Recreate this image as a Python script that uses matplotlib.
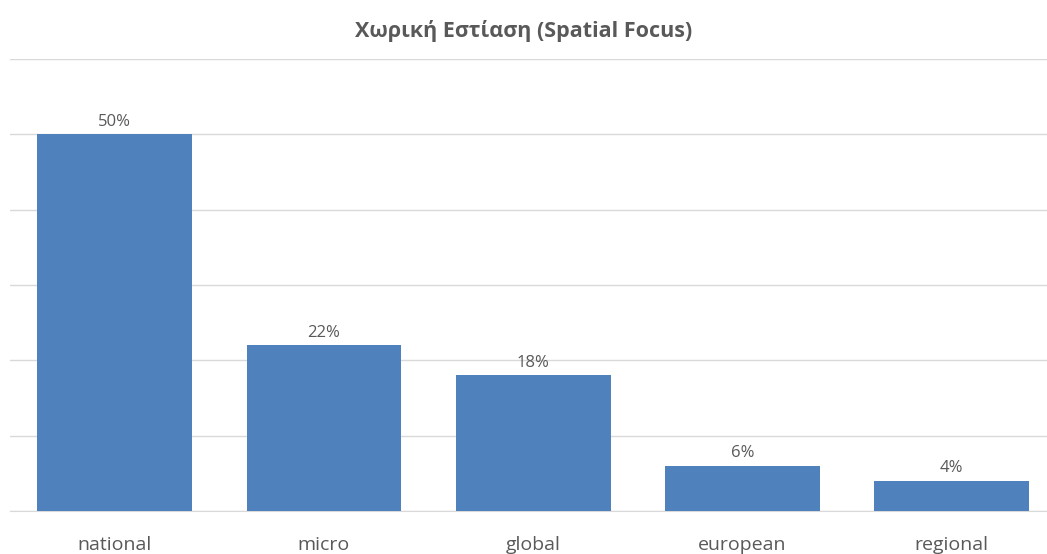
import matplotlib.pyplot as plt

categories = ['national', 'micro', 'global', 'european', 'regional']
values = [50, 22, 18, 6, 4]
labels = ['50%', '22%', '18%', '6%', '4%']

plt.rcParams['font.family'] = ['Open Sans', 'DejaVu Sans']

fig = plt.figure(figsize=(10.47, 5.54), dpi=100)
ax = fig.add_axes([10 / 1047, 43 / 554, 1046.5 / 1047, 452 / 554])

bars = ax.bar(range(len(categories)), values, width=0.74, color='#4F81BD', zorder=3)
for b, lab in zip(bars, labels):
    ax.text(b.get_x() + b.get_width() / 2, b.get_height() + 0.6, lab,
            ha='center', va='bottom', fontsize=12, color='#595959')

ax.set_xlim(-0.5, 4.5)
ax.set_ylim(0, 60)
ax.set_yticks(range(0, 61, 10))
ax.yaxis.grid(True, color='#D9D9D9', linewidth=1)
ax.tick_params(axis='y', left=False, labelleft=False)
ax.tick_params(axis='x', length=0, pad=18, labelsize=14, labelcolor='#595959')
ax.set_xticks(range(len(categories)))
ax.set_xticklabels(categories)
for s in ['top', 'right', 'left']:
    ax.spines[s].set_visible(False)
ax.spines['bottom'].set_color('#D9D9D9')

fig.text(0.5, 1 - 31 / 554, 'Χωρική Εστίαση (Spatial Focus)', ha='center', va='center',
         fontsize=15.5, fontweight='bold', color='#595959')

fig.savefig('out.png', dpi=100)
